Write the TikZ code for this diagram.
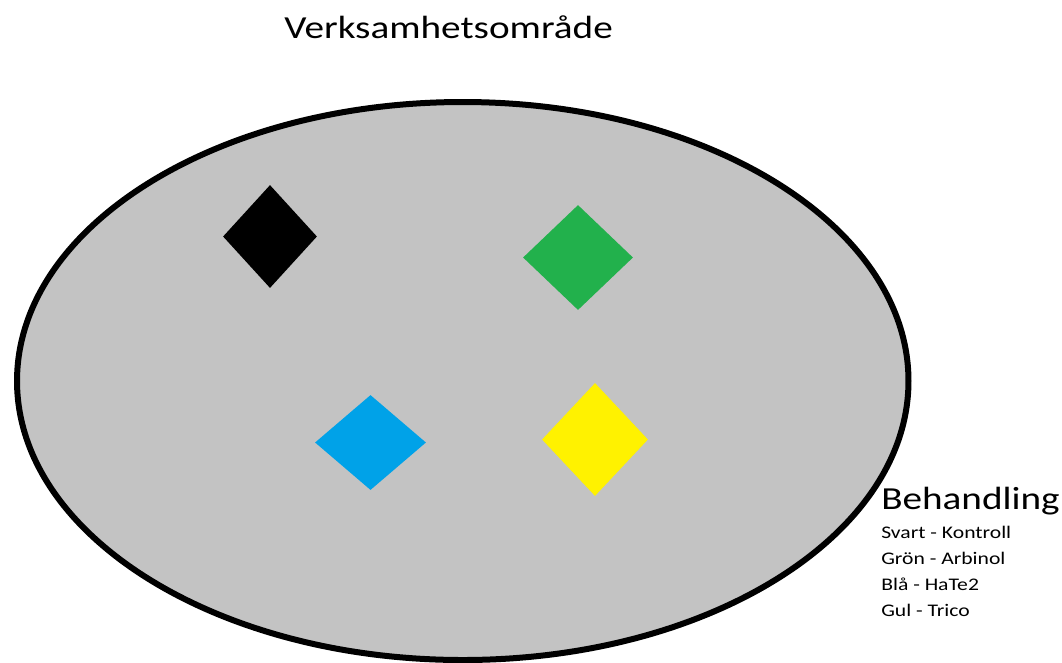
\documentclass[tikz,border=0pt]{standalone}
\usepackage{fontspec}
\setmainfont{Carlito}[FakeStretch=1.22]
\usepackage{xcolor}
\usepackage{tikz}
\usetikzlibrary{shapes.geometric,positioning}
\definecolor{fgray}{HTML}{C3C3C3}
\definecolor{pgreen}{HTML}{22B14C}
\definecolor{pblue}{HTML}{00A2E8}
\definecolor{pyellow}{HTML}{FFF200}
\tikzset{
  field/.style={ellipse, draw=black, fill=fgray, line width=4.5pt, inner sep=0pt,
    minimum width=668.6pt, minimum height=418.5pt},
  plot/.style={diamond, draw=none, inner sep=0pt, shape aspect=1},
  heading/.style={font=\fontsize{24.1}{28}\selectfont, inner sep=0pt},
  legtext/.style={font=\fontsize{13.3}{19.5}\selectfont, inner sep=0pt},
}

\begin{document}
\begin{tikzpicture}[x=0.75pt, y=-0.75pt]
\useasboundingbox (0,0) rectangle (1062,662);
\node[heading, anchor=base west] (title) at (284,38) {Verksamhetsområde};

\node[field] (omrade) at (462.75,381) {};

\node[plot, fill=black, minimum width=70.5pt, minimum height=77.25pt] (svart) at (270,236.5) {};
\node[plot, fill=pgreen, minimum width=82.5pt, minimum height=78.75pt] (gron) at (578,257.5) {};
\node[plot, fill=pblue, minimum width=83.25pt, minimum height=71.25pt] (bla) at (370.5,442.5) {};
\node[plot, fill=pyellow, minimum width=79.5pt, minimum height=84.75pt] (gul) at (595,439.5) {};

\node[heading, anchor=base west] (behandling) at (881,509) {Behandling};
\foreach \txt [count=\i] in {Svart - Kontroll, Grön - Arbinol, Blå - HaTe2, Gul - Trico}
  \node[legtext, anchor=base west] (leg\i) at (881,512+26*\i) {\txt};
\end{tikzpicture}
\end{document}
